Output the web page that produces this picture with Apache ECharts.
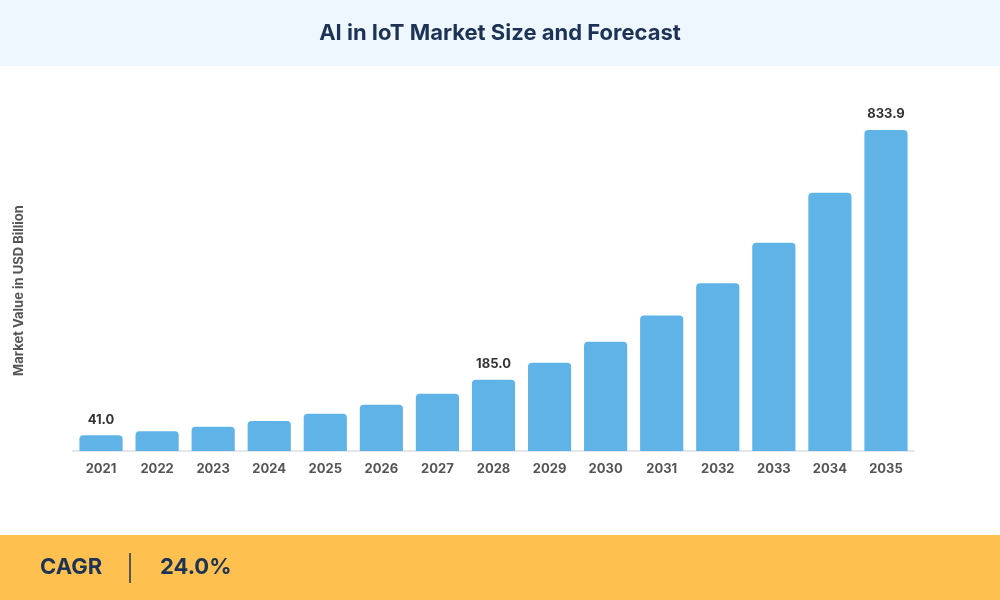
<!DOCTYPE html>
<html><head><meta charset="utf-8">
<script src="https://cdn.jsdelivr.net/npm/echarts@6/dist/echarts.min.js"></script>
<style>html,body{margin:0;padding:0;background:#fff}#c{width:1000px;height:600px}</style>
</head><body><div id="c"></div>
<script>
const years = ["2021","2022","2023","2024","2025","2026","2027","2028","2029","2030","2031","2032","2033","2034","2035"];
const values = [41.0,51,63,78,97,120,149,185.0,229,284,352,436,541,671,833.9];
const labeled = ["2021","2028","2035"];
const titleText = "AI in IoT Market Size and Forecast";
const yName = "Market Value in USD Billion";
const cagrLabel = "CAGR";
const cagrValue = "24.0%";

const chart = echarts.init(document.getElementById('c'));
chart.setOption({
  animation:false,
  graphic:[
    {type:'rect',shape:{x:0,y:0,width:1000,height:66},style:{fill:'#eef6fe'}},
    {type:'text',x:500,y:33,style:{text:titleText,fill:'#1d3356',font:'bold 22px Inter, "Open Sans", sans-serif',textAlign:'center',textVerticalAlign:'middle'}},
    {type:'rect',shape:{x:0,y:535,width:1000,height:65},style:{fill:'#fec14f'}},
    {type:'text',x:40,y:567,style:{text:cagrLabel,fill:'#1d3356',font:'bold 22px Inter, "Open Sans", sans-serif',textVerticalAlign:'middle'}},
    {type:'line',shape:{x1:130,y1:553,x2:130,y2:583},style:{stroke:'#1d3356',lineWidth:1.5}},
    {type:'text',x:160,y:567,style:{text:cagrValue,fill:'#1d3356',font:'bold 22px Inter, "Open Sans", sans-serif',textVerticalAlign:'middle'}}
  ],
  grid:{left:73,right:86,top:130,bottom:149},
  xAxis:{type:'category',data:years,axisTick:{show:false},
    axisLine:{lineStyle:{color:'#e3e6ea',width:2}},
    axisLabel:{color:'#555',fontWeight:'bold',fontSize:13,margin:12,fontFamily:'Inter, sans-serif'}},
  yAxis:{type:'value',min:0,max:833.9,show:true,axisLine:{show:false},axisTick:{show:false},axisLabel:{show:false},splitLine:{show:false},
    name:yName,nameLocation:'middle',nameGap:47,nameRotate:90,
    nameTextStyle:{color:'#555',fontWeight:'bold',fontSize:13,fontFamily:'Inter, sans-serif'}},
  series:[{type:'bar',barWidth:'77%',
    data:values.map((v,i)=>({value:v,label:{show:labeled.includes(years[i])}})),
    itemStyle:{color:'#5fb3e6',borderRadius:[4,4,0,0]},
    label:{position:'top',distance:9,color:'#333',fontWeight:'bold',fontSize:13,fontFamily:'Inter, sans-serif',formatter:p=>p.value.toFixed(1)}}]
});
</script></body></html>
